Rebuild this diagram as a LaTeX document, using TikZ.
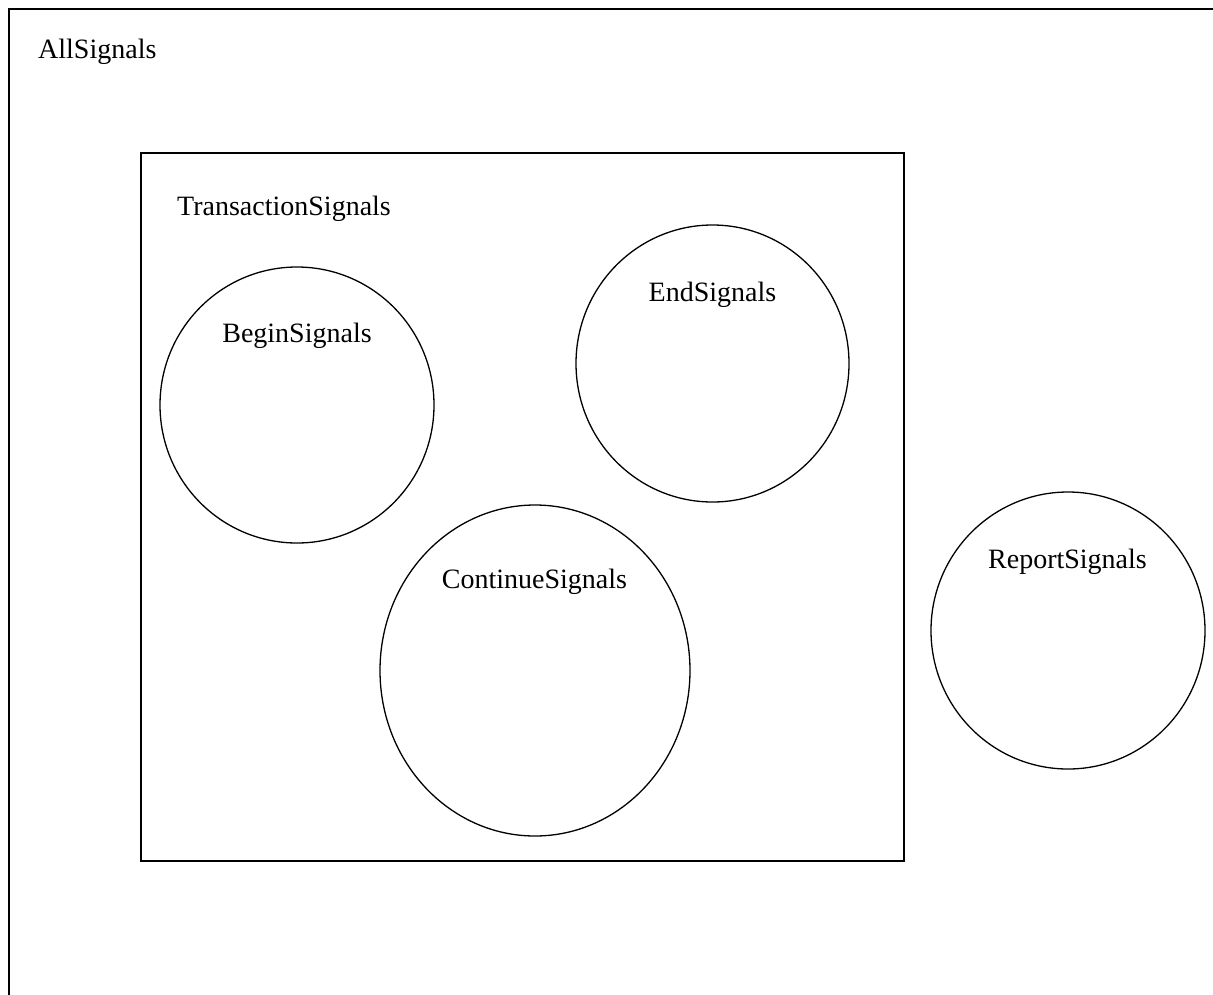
\documentclass[tikz,border=0pt]{standalone}
\usepackage{fontspec}
\setmainfont{Liberation Serif}
\begin{document}
\begin{tikzpicture}[x=1pt,y=-1pt,
  setbox/.style={draw=black,line width=1.3pt},
  setcircle/.style={draw=black,line width=1.3pt},
  setlabel/.style={font=\fontsize{28}{32}\selectfont,inner sep=0pt,anchor=base},
  outerlabel/.style={font=\fontsize{28}{32}\selectfont,inner sep=0pt,anchor=base west}]
\useasboundingbox (0,0) rectangle (1213,994);
\clip (0,0) rectangle (1213,994);
% universe of all signals (runs off the page at right and bottom)
\draw[setbox] (9,9) coordinate (allA) rectangle (1240,1020) coordinate (allB);
\node[outerlabel] (all) at (38,58.5) {AllSignals};
% transaction signals
\draw[setbox] (141,153) coordinate (trA) rectangle (904,861) coordinate (trB);
\node[outerlabel] (tr) at (177,215) {TransactionSignals};
% member sets
\draw[setcircle] (297,405) ellipse [x radius=137, y radius=138];
\node[setlabel] (begin) at (297,342.5) {BeginSignals};
\draw[setcircle] (712.5,363.5) ellipse [x radius=136.5, y radius=138.5];
\node[setlabel] (end) at (712.5,301.5) {EndSignals};
\draw[setcircle] (535,670.5) ellipse [x radius=155, y radius=165.5];
\node[setlabel] (cont) at (534.5,588.5) {ContinueSignals};
\draw[setcircle] (1068,630.5) ellipse [x radius=137, y radius=138.5];
\node[setlabel] (report) at (1067.5,568.5) {ReportSignals};
\end{tikzpicture}
\end{document}
